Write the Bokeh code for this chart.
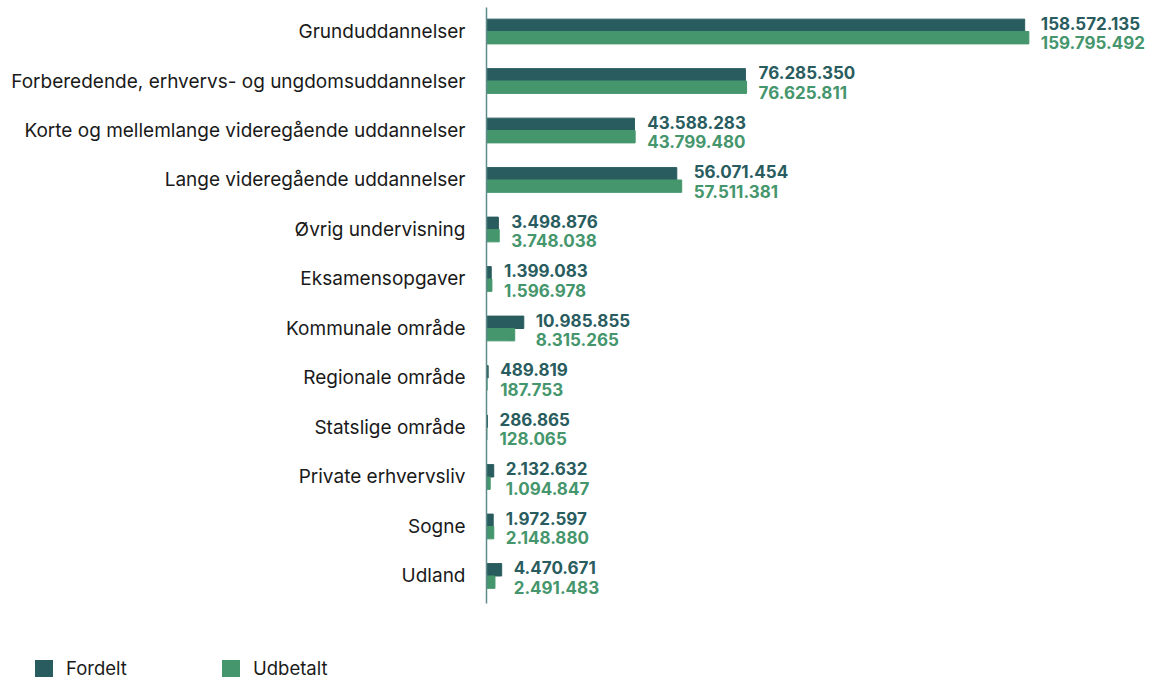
from bokeh.plotting import figure
from bokeh.layouts import column
from bokeh.models import Range1d, FixedTicker, ColumnDataSource, Div
from bokeh.core.properties import value
from bokeh.embed import file_html
from bokeh.resources import INLINE

categories = [
    "Grunduddannelser",
    "Forberedende, erhvervs- og ungdomsuddannelser",
    "Korte og mellemlange videregående uddannelser",
    "Lange videregående uddannelser",
    "Øvrig undervisning",
    "Eksamensopgaver",
    "Kommunale område",
    "Regionale område",
    "Statslige område",
    "Private erhvervsliv",
    "Sogne",
    "Udland",
]
fordelt = [158572135, 76285350, 43588283, 56071454, 3498876, 1399083,
           10985855, 489819, 286865, 2132632, 1972597, 4470671]
udbetalt = [159795492, 76625811, 43799480, 57511381, 3748038, 1596978,
            8315265, 187753, 128065, 1094847, 2148880, 2491483]
series_names = ["Fordelt", "Udbetalt"]

DARK = "#295c5e"
GREEN = "#45966c"
FONT = "Inter"
W = 1148

idx = list(range(len(categories)))


def fmt(v):
    return f"{v:,}".replace(",", ".")


src = ColumnDataSource(dict(
    y_f=[i - 0.125 for i in idx],
    y_u=[i + 0.125 for i in idx],
    f=fordelt,
    u=udbetalt,
    lx=[max(a, b) for a, b in zip(fordelt, udbetalt)],
    fl=[fmt(v) for v in fordelt],
    ul=[fmt(v) for v in udbetalt],
))

p = figure(width=W, height=612, output_backend="svg", toolbar_location=None,
           x_range=Range1d(0, 195.05e6), y_range=Range1d(11.556, -0.485),
           min_border_left=486, min_border_right=0, min_border_top=7,
           min_border_bottom=9)
p.outline_line_color = None
p.grid.visible = False
p.xaxis.visible = False

p.hbar(y="y_f", left=0, right="f", height=0.25, color=DARK, source=src)
p.hbar(y="y_u", left=0, right="u", height=0.25, color=GREEN, source=src)

p.text(x="lx", y="y_f", text="fl", x_offset=12, y_offset=-2,
       text_baseline="middle", text_align="left", text_font=value(FONT),
       text_font_style="bold", text_font_size="17px", text_color=DARK, source=src)
p.text(x="lx", y="y_u", text="ul", x_offset=12, y_offset=5,
       text_baseline="middle", text_align="left", text_font=value(FONT),
       text_font_style="bold", text_font_size="17px", text_color=GREEN, source=src)

ax = p.yaxis[0]
ax.ticker = FixedTicker(ticks=idx)
ax.major_label_overrides = {i: c for i, c in enumerate(categories)}
ax.major_tick_line_color = None
ax.minor_tick_line_color = None
ax.axis_line_color = "#5f8a8b"
ax.axis_line_width = 1.5
ax.major_label_standoff = 15
ax.major_label_text_font = FONT
ax.major_label_text_font_size = "19px"
ax.major_label_text_color = "#1a1a1a"

# Legend strip below the chart
colors = [DARK, GREEN]
lefts = [35, 222]
items_html = ""
for name, c, x0 in zip(series_names, colors, lefts):
    items_html += (
        f'<div style="position:absolute;left:{x0}px;top:48px;width:18px;'
        f'height:17px;background:{c};"></div>'
        f'<div style="position:absolute;left:{x0 + 31}px;top:44px;'
        f'line-height:24px;white-space:nowrap;">{name}</div>'
    )
legend_div = Div(
    text=(f'<div style="position:relative;width:{W}px;height:67px;'
          f'font-family:{FONT};font-size:18.5px;color:#1a1a1a;">{items_html}</div>'),
    width=W, height=67, margin=0,
)

layout = column(p, legend_div, spacing=0)
open("out.html", "w").write(file_html(layout, INLINE))
